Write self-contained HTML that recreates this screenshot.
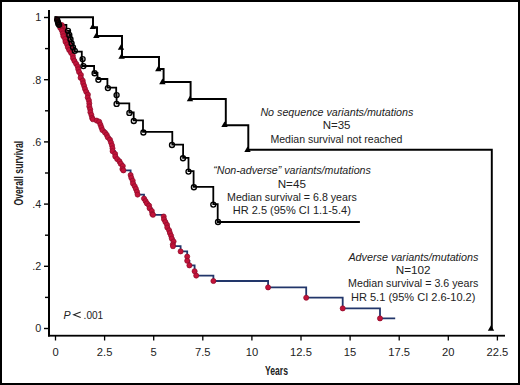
<!DOCTYPE html>
<html><head><meta charset="utf-8"><style>html,body{margin:0;padding:0;background:#fff;}svg{display:block;}</style></head>
<body>
<svg width="520" height="385" viewBox="0 0 520 385">
<rect x="0" y="0" width="520" height="385" fill="#fff"/>
<rect x="0" y="0" width="520" height="2" fill="#000"/>
<rect x="0" y="383" width="520" height="2" fill="#000"/>
<rect x="0" y="0" width="2" height="385" fill="#000"/>
<rect x="518" y="0" width="2" height="385" fill="#000"/>
<rect x="48" y="10" width="2" height="326.5" fill="#000"/>
<rect x="48" y="334.8" width="457" height="1.8" fill="#000"/>
<rect x="44" y="327.80" width="4" height="1.4" fill="#000"/>
<text x="41.3" y="332.30" font-size="10.8" text-anchor="end" font-family="&quot;Liberation Sans&quot;, sans-serif" fill="#222">0</text>
<rect x="44" y="265.60" width="4" height="1.4" fill="#000"/>
<text x="41.3" y="270.10" font-size="10.8" text-anchor="end" font-family="&quot;Liberation Sans&quot;, sans-serif" fill="#222">.2</text>
<rect x="44" y="203.40" width="4" height="1.4" fill="#000"/>
<text x="41.3" y="207.90" font-size="10.8" text-anchor="end" font-family="&quot;Liberation Sans&quot;, sans-serif" fill="#222">.4</text>
<rect x="44" y="141.20" width="4" height="1.4" fill="#000"/>
<text x="41.3" y="145.70" font-size="10.8" text-anchor="end" font-family="&quot;Liberation Sans&quot;, sans-serif" fill="#222">.6</text>
<rect x="44" y="79.00" width="4" height="1.4" fill="#000"/>
<text x="41.3" y="83.50" font-size="10.8" text-anchor="end" font-family="&quot;Liberation Sans&quot;, sans-serif" fill="#222">.8</text>
<rect x="44" y="16.80" width="4" height="1.4" fill="#000"/>
<text x="41.3" y="21.30" font-size="10.8" text-anchor="end" font-family="&quot;Liberation Sans&quot;, sans-serif" fill="#222">1</text>
<rect x="45" y="296.70" width="3" height="1.4" fill="#000"/>
<rect x="45" y="234.50" width="3" height="1.4" fill="#000"/>
<rect x="45" y="172.30" width="3" height="1.4" fill="#000"/>
<rect x="45" y="110.10" width="3" height="1.4" fill="#000"/>
<rect x="45" y="47.90" width="3" height="1.4" fill="#000"/>
<rect x="54.85" y="336" width="1.3" height="4.5" fill="#000"/>
<text x="55.50" y="355.5" font-size="11.2" text-anchor="middle" font-family="&quot;Liberation Sans&quot;, sans-serif" fill="#222">0</text>
<rect x="103.95" y="336" width="1.3" height="4.5" fill="#000"/>
<text x="104.60" y="355.5" font-size="11.2" text-anchor="middle" font-family="&quot;Liberation Sans&quot;, sans-serif" fill="#222">2.5</text>
<rect x="153.05" y="336" width="1.3" height="4.5" fill="#000"/>
<text x="153.70" y="355.5" font-size="11.2" text-anchor="middle" font-family="&quot;Liberation Sans&quot;, sans-serif" fill="#222">5</text>
<rect x="202.15" y="336" width="1.3" height="4.5" fill="#000"/>
<text x="202.80" y="355.5" font-size="11.2" text-anchor="middle" font-family="&quot;Liberation Sans&quot;, sans-serif" fill="#222">7.5</text>
<rect x="251.25" y="336" width="1.3" height="4.5" fill="#000"/>
<text x="251.90" y="355.5" font-size="11.2" text-anchor="middle" font-family="&quot;Liberation Sans&quot;, sans-serif" fill="#222">10</text>
<rect x="300.35" y="336" width="1.3" height="4.5" fill="#000"/>
<text x="301.00" y="355.5" font-size="11.2" text-anchor="middle" font-family="&quot;Liberation Sans&quot;, sans-serif" fill="#222">12.5</text>
<rect x="349.45" y="336" width="1.3" height="4.5" fill="#000"/>
<text x="350.10" y="355.5" font-size="11.2" text-anchor="middle" font-family="&quot;Liberation Sans&quot;, sans-serif" fill="#222">15</text>
<rect x="398.55" y="336" width="1.3" height="4.5" fill="#000"/>
<text x="399.20" y="355.5" font-size="11.2" text-anchor="middle" font-family="&quot;Liberation Sans&quot;, sans-serif" fill="#222">17.5</text>
<rect x="447.65" y="336" width="1.3" height="4.5" fill="#000"/>
<text x="448.30" y="355.5" font-size="11.2" text-anchor="middle" font-family="&quot;Liberation Sans&quot;, sans-serif" fill="#222">20</text>
<rect x="496.75" y="336" width="1.3" height="4.5" fill="#000"/>
<text x="497.40" y="355.5" font-size="11.2" text-anchor="middle" font-family="&quot;Liberation Sans&quot;, sans-serif" fill="#222">22.5</text>
<text transform="translate(276.5,374.8) scale(0.65,1)" font-size="13.3" font-weight="bold" text-anchor="middle" font-family="&quot;Liberation Sans&quot;, sans-serif" fill="#222">Years</text>
<text transform="translate(22.6,173.2) rotate(-90) scale(0.654,1)" font-size="13.3" font-weight="bold" text-anchor="middle" font-family="&quot;Liberation Sans&quot;, sans-serif" fill="#222">Overall survival</text>
<path d="M55.5,17.2 L93.0,17.2 L93.0,27.2 L97.0,27.2 L97.0,36.0 L122.0,36.0 L122.0,46.5 L122.0,46.5 L122.0,57.0 L159.0,57.0 L159.0,69.0 L163.6,69.0 L163.6,82.0 L190.6,82.0 L190.6,99.0 L225.8,99.0 L225.8,125.2 L248.3,125.2 L248.3,149.8 L491.8,149.8 L491.8,328.5" fill="none" stroke="#000" stroke-width="1.95" stroke-linejoin="miter" stroke-linecap="square"/>
<path d="M89.60,29.00 L96.00,29.00 L92.80,23.40 Z" fill="#000"/>
<path d="M93.10,38.00 L99.50,38.00 L96.30,32.40 Z" fill="#000"/>
<path d="M117.80,49.80 L124.20,49.80 L121.00,44.20 Z" fill="#000"/>
<path d="M118.40,58.80 L124.80,58.80 L121.60,53.20 Z" fill="#000"/>
<path d="M155.10,71.30 L161.50,71.30 L158.30,65.70 Z" fill="#000"/>
<path d="M159.20,84.20 L165.60,84.20 L162.40,78.60 Z" fill="#000"/>
<path d="M186.80,101.30 L193.20,101.30 L190.00,95.70 Z" fill="#000"/>
<path d="M221.30,127.10 L227.70,127.10 L224.50,121.50 Z" fill="#000"/>
<path d="M244.30,152.10 L250.70,152.10 L247.50,146.50 Z" fill="#000"/>
<path d="M487.80,330.80 L494.20,330.80 L491.00,325.20 Z" fill="#000"/>
<path d="M55.5,17.2 H56.3 V24.9 H66.2 V24.9 H66.4 V30.8 H69.3 V35.0 H70.5 V39.2 H71.6 V43.3 H73.0 V47.3 H74.8 V51.7 H81.8 V59.0 H82.5 V66.0 H94.1 V73.0 H97.5 V79.0 H107.4 V87.7 H116.2 V95.0 H116.6 V103.3 H129.3 V112.5 H133.7 V120.3 H143.0 V131.9 H172.3 V144.7 H183.1 V157.8 H188.5 V171.2 H193.6 V186.8 H213.3 V204.2 H217.7 V222.0 H359.0 V222.0" fill="none" stroke="#000" stroke-width="1.8" stroke-linecap="square"/>
<path d="M57.1,19.5 H58.0 V22.3 H59.8 V25.0 H60.2 V27.8 H61.9 V30.6 H62.8 V33.4 H63.4 V36.2 H65.1 V39.0 H65.5 V41.8 H67.1 V44.6 H67.9 V47.3 H69.2 V50.0 H71.0 V52.7 H72.8 V55.5 H73.1 V58.2 H74.4 V60.9 H76.1 V63.7 H77.7 V66.5 H78.3 V69.3 H79.1 V72.1 H80.9 V74.9 H80.6 V77.7 H82.7 V80.6 H83.2 V83.3 H84.2 V86.0 H85.0 V88.9 H86.2 V91.7 H87.9 V94.6 H87.7 V97.5 H88.9 V100.4 H89.3 V103.4 H89.3 V106.4 H90.2 V109.3 H90.4 V112.2 H91.4 V115.0 H92.1 V117.9 H92.9 V119.3 H96.7 V120.6 H99.2 V121.7 H100.4 V124.6 H101.4 V127.4 H102.4 V130.1 H104.9 V132.5 H106.7 V134.8 H107.8 V137.3 H110.0 V139.7 H111.0 V142.5 H112.0 V145.4 H112.5 V148.3 H112.6 V151.2 H115.1 V153.9 H115.3 V156.5 H117.2 V159.1 H119.5 V161.4 H120.7 V163.7 H122.8 V166.1 H122.4 V169.1 H123.4 V170.4 H130.6 V175.0 H131.3 V177.8 H132.7 V180.7 H133.0 V183.5 H134.7 V186.2 H135.9 V188.9 H137.0 V191.7 H137.6 V194.6 H144.0 V198.5 H145.6 V201.1 H146.9 V203.4 H149.1 V205.6 H149.6 V208.3 H151.8 V211.0 H152.3 V214.0 H153.0 V214.8 H163.7 V216.5 H164.0 V219.3 H165.4 V222.0 H167.0 V224.8 H167.3 V227.5 H169.1 V230.3 H169.9 V233.0 H171.1 V235.7 H171.8 V238.6 H173.6 V241.5 H172.8 V244.5 H173.0 V246.2 H180.6 V251.4 H187.2 V256.6 H187.2 V260.8 H189.4 V265.4 H194.6 V271.2 H196.2 V275.6 H213.4 V281.0 H268.1 V287.4 H306.2 V297.7 H342.7 V308.4 H380.0 V318.4 H395.2" fill="none" stroke="#22366a" stroke-width="1.8"/>
<circle cx="61.8" cy="25.0" r="2.55" fill="#c21339" stroke="#8e0b2a" stroke-width="0.7"/>
<circle cx="62.9" cy="27.8" r="2.55" fill="#c21339" stroke="#8e0b2a" stroke-width="0.7"/>
<circle cx="63.9" cy="30.6" r="2.55" fill="#c21339" stroke="#8e0b2a" stroke-width="0.7"/>
<circle cx="64.9" cy="33.4" r="2.55" fill="#c21339" stroke="#8e0b2a" stroke-width="0.7"/>
<circle cx="65.9" cy="36.3" r="2.55" fill="#c21339" stroke="#8e0b2a" stroke-width="0.7"/>
<circle cx="66.8" cy="39.1" r="2.55" fill="#c21339" stroke="#8e0b2a" stroke-width="0.7"/>
<circle cx="67.8" cy="42.0" r="2.55" fill="#c21339" stroke="#8e0b2a" stroke-width="0.7"/>
<circle cx="68.8" cy="44.8" r="2.55" fill="#c21339" stroke="#8e0b2a" stroke-width="0.7"/>
<circle cx="69.9" cy="47.6" r="2.55" fill="#c21339" stroke="#8e0b2a" stroke-width="0.7"/>
<circle cx="71.0" cy="50.4" r="2.55" fill="#c21339" stroke="#8e0b2a" stroke-width="0.7"/>
<circle cx="57.1" cy="19.5" r="2.55" fill="#c21339" stroke="#8e0b2a" stroke-width="0.7"/>
<circle cx="58.0" cy="22.3" r="2.55" fill="#c21339" stroke="#8e0b2a" stroke-width="0.7"/>
<circle cx="59.8" cy="25.0" r="2.55" fill="#c21339" stroke="#8e0b2a" stroke-width="0.7"/>
<circle cx="60.2" cy="27.8" r="2.55" fill="#c21339" stroke="#8e0b2a" stroke-width="0.7"/>
<circle cx="61.9" cy="30.6" r="2.55" fill="#c21339" stroke="#8e0b2a" stroke-width="0.7"/>
<circle cx="62.8" cy="33.4" r="2.55" fill="#c21339" stroke="#8e0b2a" stroke-width="0.7"/>
<circle cx="63.4" cy="36.2" r="2.55" fill="#c21339" stroke="#8e0b2a" stroke-width="0.7"/>
<circle cx="65.1" cy="39.0" r="2.55" fill="#c21339" stroke="#8e0b2a" stroke-width="0.7"/>
<circle cx="65.5" cy="41.8" r="2.55" fill="#c21339" stroke="#8e0b2a" stroke-width="0.7"/>
<circle cx="67.1" cy="44.6" r="2.55" fill="#c21339" stroke="#8e0b2a" stroke-width="0.7"/>
<circle cx="67.9" cy="47.3" r="2.55" fill="#c21339" stroke="#8e0b2a" stroke-width="0.7"/>
<circle cx="69.2" cy="50.0" r="2.55" fill="#c21339" stroke="#8e0b2a" stroke-width="0.7"/>
<circle cx="71.0" cy="52.7" r="2.55" fill="#c21339" stroke="#8e0b2a" stroke-width="0.7"/>
<circle cx="72.8" cy="55.5" r="2.55" fill="#c21339" stroke="#8e0b2a" stroke-width="0.7"/>
<circle cx="73.1" cy="58.2" r="2.55" fill="#c21339" stroke="#8e0b2a" stroke-width="0.7"/>
<circle cx="74.4" cy="60.9" r="2.55" fill="#c21339" stroke="#8e0b2a" stroke-width="0.7"/>
<circle cx="76.1" cy="63.7" r="2.55" fill="#c21339" stroke="#8e0b2a" stroke-width="0.7"/>
<circle cx="77.7" cy="66.5" r="2.55" fill="#c21339" stroke="#8e0b2a" stroke-width="0.7"/>
<circle cx="78.3" cy="69.3" r="2.55" fill="#c21339" stroke="#8e0b2a" stroke-width="0.7"/>
<circle cx="79.1" cy="72.1" r="2.55" fill="#c21339" stroke="#8e0b2a" stroke-width="0.7"/>
<circle cx="80.9" cy="74.9" r="2.55" fill="#c21339" stroke="#8e0b2a" stroke-width="0.7"/>
<circle cx="80.6" cy="77.7" r="2.55" fill="#c21339" stroke="#8e0b2a" stroke-width="0.7"/>
<circle cx="82.7" cy="80.6" r="2.55" fill="#c21339" stroke="#8e0b2a" stroke-width="0.7"/>
<circle cx="83.2" cy="83.3" r="2.55" fill="#c21339" stroke="#8e0b2a" stroke-width="0.7"/>
<circle cx="84.2" cy="86.0" r="2.55" fill="#c21339" stroke="#8e0b2a" stroke-width="0.7"/>
<circle cx="85.0" cy="88.9" r="2.55" fill="#c21339" stroke="#8e0b2a" stroke-width="0.7"/>
<circle cx="86.2" cy="91.7" r="2.55" fill="#c21339" stroke="#8e0b2a" stroke-width="0.7"/>
<circle cx="87.9" cy="94.6" r="2.55" fill="#c21339" stroke="#8e0b2a" stroke-width="0.7"/>
<circle cx="87.7" cy="97.5" r="2.55" fill="#c21339" stroke="#8e0b2a" stroke-width="0.7"/>
<circle cx="88.9" cy="100.4" r="2.55" fill="#c21339" stroke="#8e0b2a" stroke-width="0.7"/>
<circle cx="89.3" cy="103.4" r="2.55" fill="#c21339" stroke="#8e0b2a" stroke-width="0.7"/>
<circle cx="89.3" cy="106.4" r="2.55" fill="#c21339" stroke="#8e0b2a" stroke-width="0.7"/>
<circle cx="90.2" cy="109.3" r="2.55" fill="#c21339" stroke="#8e0b2a" stroke-width="0.7"/>
<circle cx="90.4" cy="112.2" r="2.55" fill="#c21339" stroke="#8e0b2a" stroke-width="0.7"/>
<circle cx="91.4" cy="115.0" r="2.55" fill="#c21339" stroke="#8e0b2a" stroke-width="0.7"/>
<circle cx="92.1" cy="117.9" r="2.55" fill="#c21339" stroke="#8e0b2a" stroke-width="0.7"/>
<circle cx="92.9" cy="119.3" r="2.55" fill="#c21339" stroke="#8e0b2a" stroke-width="0.7"/>
<circle cx="96.7" cy="120.6" r="2.55" fill="#c21339" stroke="#8e0b2a" stroke-width="0.7"/>
<circle cx="99.2" cy="121.7" r="2.55" fill="#c21339" stroke="#8e0b2a" stroke-width="0.7"/>
<circle cx="100.4" cy="124.6" r="2.55" fill="#c21339" stroke="#8e0b2a" stroke-width="0.7"/>
<circle cx="101.4" cy="127.4" r="2.55" fill="#c21339" stroke="#8e0b2a" stroke-width="0.7"/>
<circle cx="102.4" cy="130.1" r="2.55" fill="#c21339" stroke="#8e0b2a" stroke-width="0.7"/>
<circle cx="104.9" cy="132.5" r="2.55" fill="#c21339" stroke="#8e0b2a" stroke-width="0.7"/>
<circle cx="106.7" cy="134.8" r="2.55" fill="#c21339" stroke="#8e0b2a" stroke-width="0.7"/>
<circle cx="107.8" cy="137.3" r="2.55" fill="#c21339" stroke="#8e0b2a" stroke-width="0.7"/>
<circle cx="110.0" cy="139.7" r="2.55" fill="#c21339" stroke="#8e0b2a" stroke-width="0.7"/>
<circle cx="111.0" cy="142.5" r="2.55" fill="#c21339" stroke="#8e0b2a" stroke-width="0.7"/>
<circle cx="112.0" cy="145.4" r="2.55" fill="#c21339" stroke="#8e0b2a" stroke-width="0.7"/>
<circle cx="112.5" cy="148.3" r="2.55" fill="#c21339" stroke="#8e0b2a" stroke-width="0.7"/>
<circle cx="112.6" cy="151.2" r="2.55" fill="#c21339" stroke="#8e0b2a" stroke-width="0.7"/>
<circle cx="115.1" cy="153.9" r="2.55" fill="#c21339" stroke="#8e0b2a" stroke-width="0.7"/>
<circle cx="115.3" cy="156.5" r="2.55" fill="#c21339" stroke="#8e0b2a" stroke-width="0.7"/>
<circle cx="117.2" cy="159.1" r="2.55" fill="#c21339" stroke="#8e0b2a" stroke-width="0.7"/>
<circle cx="119.5" cy="161.4" r="2.55" fill="#c21339" stroke="#8e0b2a" stroke-width="0.7"/>
<circle cx="120.7" cy="163.7" r="2.55" fill="#c21339" stroke="#8e0b2a" stroke-width="0.7"/>
<circle cx="122.8" cy="166.1" r="2.55" fill="#c21339" stroke="#8e0b2a" stroke-width="0.7"/>
<circle cx="122.4" cy="169.1" r="2.55" fill="#c21339" stroke="#8e0b2a" stroke-width="0.7"/>
<circle cx="123.4" cy="170.4" r="2.55" fill="#c21339" stroke="#8e0b2a" stroke-width="0.7"/>
<circle cx="130.6" cy="175.0" r="2.55" fill="#c21339" stroke="#8e0b2a" stroke-width="0.7"/>
<circle cx="131.3" cy="177.8" r="2.55" fill="#c21339" stroke="#8e0b2a" stroke-width="0.7"/>
<circle cx="132.7" cy="180.7" r="2.55" fill="#c21339" stroke="#8e0b2a" stroke-width="0.7"/>
<circle cx="133.0" cy="183.5" r="2.55" fill="#c21339" stroke="#8e0b2a" stroke-width="0.7"/>
<circle cx="134.7" cy="186.2" r="2.55" fill="#c21339" stroke="#8e0b2a" stroke-width="0.7"/>
<circle cx="135.9" cy="188.9" r="2.55" fill="#c21339" stroke="#8e0b2a" stroke-width="0.7"/>
<circle cx="137.0" cy="191.7" r="2.55" fill="#c21339" stroke="#8e0b2a" stroke-width="0.7"/>
<circle cx="137.6" cy="194.6" r="2.55" fill="#c21339" stroke="#8e0b2a" stroke-width="0.7"/>
<circle cx="144.0" cy="198.5" r="2.55" fill="#c21339" stroke="#8e0b2a" stroke-width="0.7"/>
<circle cx="145.6" cy="201.1" r="2.55" fill="#c21339" stroke="#8e0b2a" stroke-width="0.7"/>
<circle cx="146.9" cy="203.4" r="2.55" fill="#c21339" stroke="#8e0b2a" stroke-width="0.7"/>
<circle cx="149.1" cy="205.6" r="2.55" fill="#c21339" stroke="#8e0b2a" stroke-width="0.7"/>
<circle cx="149.6" cy="208.3" r="2.55" fill="#c21339" stroke="#8e0b2a" stroke-width="0.7"/>
<circle cx="151.8" cy="211.0" r="2.55" fill="#c21339" stroke="#8e0b2a" stroke-width="0.7"/>
<circle cx="152.3" cy="214.0" r="2.55" fill="#c21339" stroke="#8e0b2a" stroke-width="0.7"/>
<circle cx="153.0" cy="214.8" r="2.55" fill="#c21339" stroke="#8e0b2a" stroke-width="0.7"/>
<circle cx="163.7" cy="216.5" r="2.55" fill="#c21339" stroke="#8e0b2a" stroke-width="0.7"/>
<circle cx="164.0" cy="219.3" r="2.55" fill="#c21339" stroke="#8e0b2a" stroke-width="0.7"/>
<circle cx="165.4" cy="222.0" r="2.55" fill="#c21339" stroke="#8e0b2a" stroke-width="0.7"/>
<circle cx="167.0" cy="224.8" r="2.55" fill="#c21339" stroke="#8e0b2a" stroke-width="0.7"/>
<circle cx="167.3" cy="227.5" r="2.55" fill="#c21339" stroke="#8e0b2a" stroke-width="0.7"/>
<circle cx="169.1" cy="230.3" r="2.55" fill="#c21339" stroke="#8e0b2a" stroke-width="0.7"/>
<circle cx="169.9" cy="233.0" r="2.55" fill="#c21339" stroke="#8e0b2a" stroke-width="0.7"/>
<circle cx="171.1" cy="235.7" r="2.55" fill="#c21339" stroke="#8e0b2a" stroke-width="0.7"/>
<circle cx="171.8" cy="238.6" r="2.55" fill="#c21339" stroke="#8e0b2a" stroke-width="0.7"/>
<circle cx="173.6" cy="241.5" r="2.55" fill="#c21339" stroke="#8e0b2a" stroke-width="0.7"/>
<circle cx="172.8" cy="244.5" r="2.55" fill="#c21339" stroke="#8e0b2a" stroke-width="0.7"/>
<circle cx="173.0" cy="246.2" r="2.55" fill="#c21339" stroke="#8e0b2a" stroke-width="0.7"/>
<circle cx="180.6" cy="251.4" r="2.55" fill="#c21339" stroke="#8e0b2a" stroke-width="0.7"/>
<circle cx="187.2" cy="256.6" r="2.55" fill="#c21339" stroke="#8e0b2a" stroke-width="0.7"/>
<circle cx="187.2" cy="260.8" r="2.55" fill="#c21339" stroke="#8e0b2a" stroke-width="0.7"/>
<circle cx="189.4" cy="265.4" r="2.55" fill="#c21339" stroke="#8e0b2a" stroke-width="0.7"/>
<circle cx="194.6" cy="271.2" r="2.55" fill="#c21339" stroke="#8e0b2a" stroke-width="0.7"/>
<circle cx="196.2" cy="275.6" r="2.55" fill="#c21339" stroke="#8e0b2a" stroke-width="0.7"/>
<circle cx="213.4" cy="281.0" r="2.55" fill="#c21339" stroke="#8e0b2a" stroke-width="0.7"/>
<circle cx="268.1" cy="287.4" r="2.55" fill="#c21339" stroke="#8e0b2a" stroke-width="0.7"/>
<circle cx="306.2" cy="297.7" r="2.55" fill="#c21339" stroke="#8e0b2a" stroke-width="0.7"/>
<circle cx="342.7" cy="308.4" r="2.55" fill="#c21339" stroke="#8e0b2a" stroke-width="0.7"/>
<circle cx="380.0" cy="318.4" r="2.55" fill="#c21339" stroke="#8e0b2a" stroke-width="0.7"/>
<circle cx="57.2" cy="19.8" r="2.5" fill="#2a0008"/>
<circle cx="58.0" cy="22.3" r="2.5" fill="#2a0008"/>
<circle cx="59.0" cy="24.8" r="2.5" fill="#2a0008"/>
<circle cx="57.2" cy="19.8" r="2.5" fill="none" stroke="#000" stroke-width="1.35"/>
<circle cx="58.0" cy="22.3" r="2.5" fill="none" stroke="#000" stroke-width="1.35"/>
<circle cx="59.0" cy="24.8" r="2.5" fill="none" stroke="#000" stroke-width="1.35"/>
<circle cx="68.0" cy="30.8" r="2.5" fill="none" stroke="#000" stroke-width="1.35"/>
<circle cx="69.3" cy="35.0" r="2.5" fill="none" stroke="#000" stroke-width="1.35"/>
<circle cx="70.5" cy="39.2" r="2.5" fill="none" stroke="#000" stroke-width="1.35"/>
<circle cx="71.6" cy="43.3" r="2.5" fill="none" stroke="#000" stroke-width="1.35"/>
<circle cx="73.0" cy="47.3" r="2.5" fill="none" stroke="#000" stroke-width="1.35"/>
<circle cx="74.8" cy="50.8" r="2.5" fill="none" stroke="#000" stroke-width="1.35"/>
<circle cx="82.6" cy="59.1" r="2.5" fill="none" stroke="#000" stroke-width="1.35"/>
<circle cx="83.4" cy="66.1" r="2.5" fill="none" stroke="#000" stroke-width="1.35"/>
<circle cx="94.6" cy="73.2" r="2.5" fill="none" stroke="#000" stroke-width="1.35"/>
<circle cx="98.4" cy="79.8" r="2.5" fill="none" stroke="#000" stroke-width="1.35"/>
<circle cx="107.9" cy="88.1" r="2.5" fill="none" stroke="#000" stroke-width="1.35"/>
<circle cx="116.6" cy="95.1" r="2.5" fill="none" stroke="#000" stroke-width="1.35"/>
<circle cx="116.6" cy="103.9" r="2.5" fill="none" stroke="#000" stroke-width="1.35"/>
<circle cx="129.4" cy="112.9" r="2.5" fill="none" stroke="#000" stroke-width="1.35"/>
<circle cx="133.8" cy="121.0" r="2.5" fill="none" stroke="#000" stroke-width="1.35"/>
<circle cx="143.4" cy="132.5" r="2.5" fill="none" stroke="#000" stroke-width="1.35"/>
<circle cx="172.0" cy="145.0" r="2.5" fill="none" stroke="#000" stroke-width="1.35"/>
<circle cx="183.0" cy="158.2" r="2.5" fill="none" stroke="#000" stroke-width="1.35"/>
<circle cx="188.5" cy="171.6" r="2.5" fill="none" stroke="#000" stroke-width="1.35"/>
<circle cx="193.9" cy="187.2" r="2.5" fill="none" stroke="#000" stroke-width="1.35"/>
<circle cx="213.3" cy="204.6" r="2.5" fill="none" stroke="#000" stroke-width="1.35"/>
<circle cx="218.0" cy="222.0" r="2.5" fill="none" stroke="#000" stroke-width="1.35"/>
<text x="336.9" y="116.00" font-size="10.7" text-anchor="middle" font-style="italic" textLength="153" lengthAdjust="spacingAndGlyphs" font-family="&quot;Liberation Sans&quot;, sans-serif" fill="#222">No sequence variants/mutations</text>
<text x="336.6" y="129.40" font-size="10.7" text-anchor="middle" textLength="27.8" lengthAdjust="spacingAndGlyphs" font-family="&quot;Liberation Sans&quot;, sans-serif" fill="#222">N=35</text>
<text x="336.4" y="142.90" font-size="10.7" text-anchor="middle" textLength="132" lengthAdjust="spacingAndGlyphs" font-family="&quot;Liberation Sans&quot;, sans-serif" fill="#222">Median survival not reached</text>
<text x="292" y="174.00" font-size="10.7" text-anchor="middle" font-style="italic" textLength="157.7" lengthAdjust="spacingAndGlyphs" font-family="&quot;Liberation Sans&quot;, sans-serif" fill="#222">“Non-adverse” variants/mutations</text>
<text x="291.8" y="187.60" font-size="10.7" text-anchor="middle" textLength="28.2" lengthAdjust="spacingAndGlyphs" font-family="&quot;Liberation Sans&quot;, sans-serif" fill="#222">N=45</text>
<text x="291.9" y="201.10" font-size="10.7" text-anchor="middle" textLength="129.7" lengthAdjust="spacingAndGlyphs" font-family="&quot;Liberation Sans&quot;, sans-serif" fill="#222">Median survival = 6.8 years</text>
<text x="291.8" y="213.70" font-size="10.7" text-anchor="middle" textLength="118" lengthAdjust="spacingAndGlyphs" font-family="&quot;Liberation Sans&quot;, sans-serif" fill="#222">HR 2.5 (95% CI 1.1-5.4)</text>
<text x="413.4" y="260.50" font-size="10.7" text-anchor="middle" font-style="italic" textLength="130" lengthAdjust="spacingAndGlyphs" font-family="&quot;Liberation Sans&quot;, sans-serif" fill="#222">Adverse variants/mutations</text>
<text x="413.1" y="274.00" font-size="10.7" text-anchor="middle" textLength="34.8" lengthAdjust="spacingAndGlyphs" font-family="&quot;Liberation Sans&quot;, sans-serif" fill="#222">N=102</text>
<text x="413.2" y="287.40" font-size="10.7" text-anchor="middle" textLength="130.2" lengthAdjust="spacingAndGlyphs" font-family="&quot;Liberation Sans&quot;, sans-serif" fill="#222">Median survival = 3.6 years</text>
<text x="413.2" y="301.00" font-size="10.7" text-anchor="middle" textLength="124.4" lengthAdjust="spacingAndGlyphs" font-family="&quot;Liberation Sans&quot;, sans-serif" fill="#222">HR 5.1 (95% CI 2.6-10.2)</text>
<text x="63.4" y="318.90" font-size="10.7" text-anchor="start" font-style="italic" font-family="&quot;Liberation Sans&quot;, sans-serif" fill="#222">P</text>
<path d="M80.7,311.9 L73.6,314.75 L80.7,317.6" fill="none" stroke="#222" stroke-width="1.05" stroke-linejoin="miter"/>
<text x="83.6" y="318.90" font-size="10.7" text-anchor="start" textLength="19.6" lengthAdjust="spacingAndGlyphs" font-family="&quot;Liberation Sans&quot;, sans-serif" fill="#222">.001</text>
</svg>
</body></html>
